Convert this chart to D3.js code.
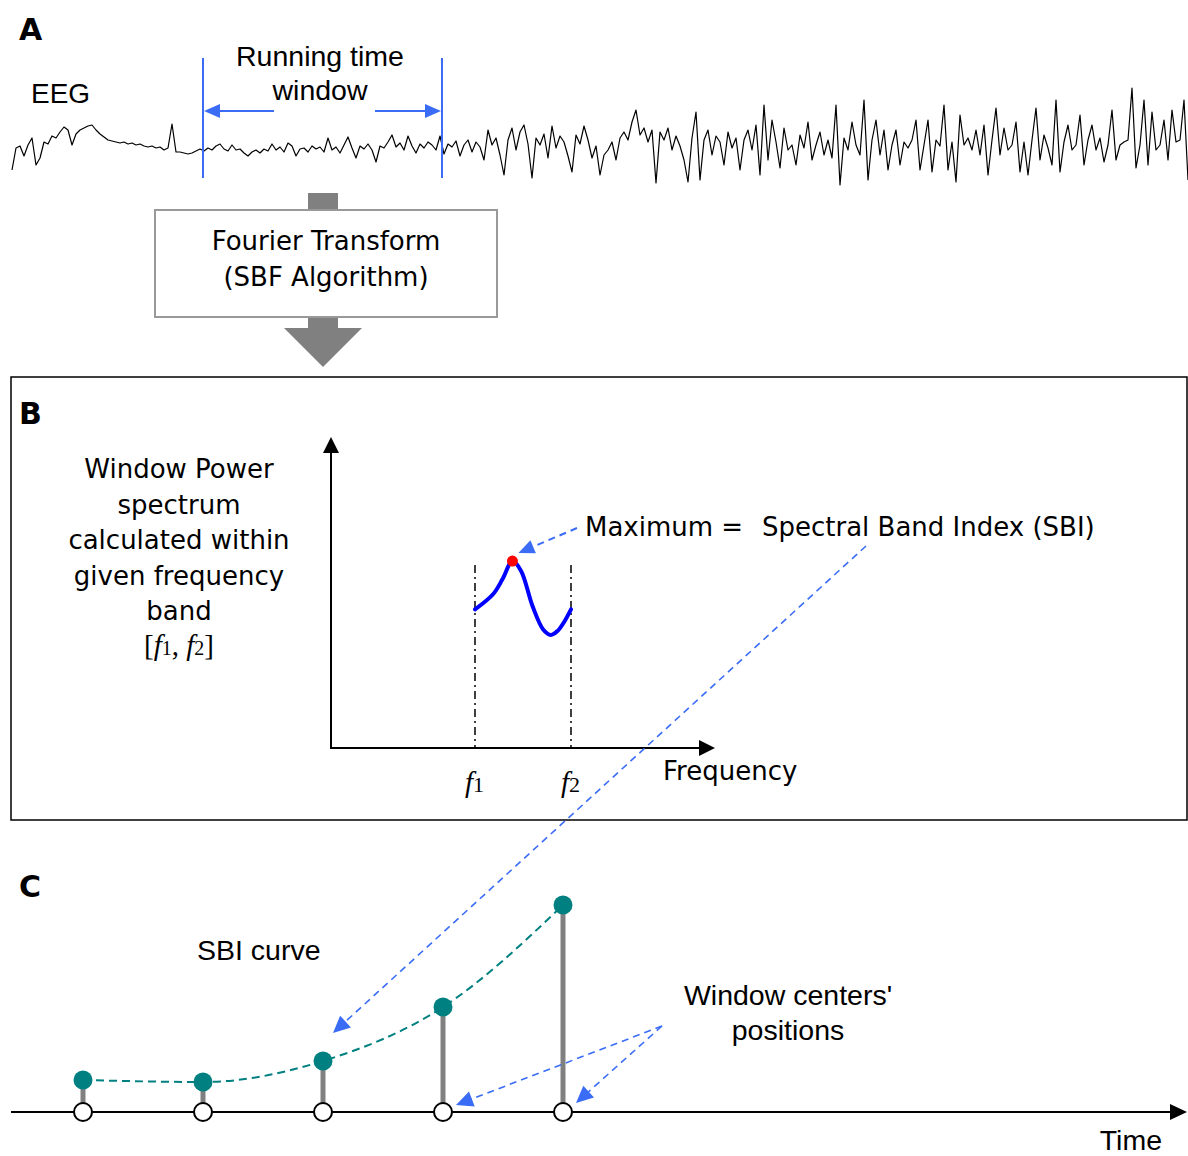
<!DOCTYPE html>
<html lang="en">
<head>
  <meta charset="UTF-8">
  <title>SBI</title>
  <script src="https://d3js.org/d3.v7.min.js"></script>
  <style>
    body { margin: 0; background: #fff; }
  </style>
</head>
<body>
<svg width="1188" height="1156"></svg>
<script>
  // --- data -------------------------------------------------------------
  // EEG trace, one sample every ~4px, amplitude in arbitrary units (up = +)
  const eegSeg1 = [-20, 2, 4, -6, 5, 12, -15, -8, 8, 6, 14, 12, 18, 23, 20, 5, 16, 20, 22, 24, 25, 20, 16, 13, 10, 9, 8, 7, 8, 6, 7, 5, 6, 4, 3, 4, 2, 3, 0, 2, 26, -2, -2, -3, -4, -3, -1, 1, -1, 2, 0, 4, 6, 1, -1, 5, 0, 1, -3, -6, -2, 0, -3, 1, -1, 6, 0, 3, -2, 7, 4, -6, 1]
  const eegSeg2 = [2, -2, 4, 1, 3, -2, 12, 0, 3, -3, 5, 13, 2, -8, 4, 1, 6, 0, -12, 4, 2, 8, 15, 3, 7, 0, 14, 4, -3, 6, 2, 8, 5, 0, 14, -4, 6, 3, 9, -6, 5, 10, -2, 8, 3, -10, 20, 5, 12, -5, -25, 10, 22, 0, 18, 25, 6, -28, 12, 5, 16, -8, 24, 2, 14, 8, -6, -22, 15, 6, 24, 10, -8, 4]
  const eegSeg3 = [-25, -5, 0, 8, -10, 12, 18, 10, 28, 40, 15, 22, 8, 20, -33, 18, 10, 22, 0, 14, 4, -10, -32, 12, 38, -30, 10, 20, -5, 14, 8, -15, 18, 2, 12, -20, 10, 20, 0, 25, -25, 45, -10, 30, 8, -18, 22, 0, 5, -15, 15, 2, 28, -10, 5, 18, -5, 10, -8, 45, -35, 12, 0, 28, 5, -5, 50, -30, 10, 30, -5, 20, -20]
  const eegSeg4 = [5, 20, -15, 8, 2, 10, 30, -20, 5, 30, -22, 10, 4, 45, -20, 8, -32, 35, 5, 12, 0, 20, -5, 25, -25, 10, 42, -5, 22, 0, 5, 28, -22, 8, -25, 10, 42, -10, 15, 2, -15, 50, -22, 8, 25, 0, 5, 35, -15, 10, 25, 0, 12, -12, 5, 40, -10, 5, 8, 10, 62, -18, 5, 50, -15, 38, 0, 5, 30, -10, 40, 8, 10, 50, -30]
  const eeg = eegSeg1.concat(eegSeg2, eegSeg3, eegSeg4)
  const runWindow = [47.75, 107.5]   // sample indices of the running window

  // window power spectrum between f1 and f2
  const specFreq = [15, 16.9, 17.9, 18.9, 19.8, 21.0, 22.1, 22.9, 23.6, 24.3, 25]
  const specPower = [4.5, 5.0, 5.5, 6.07, 5.75, 4.6, 3.85, 3.67, 3.8, 4.1, 4.5]
  const bandEdges = [15, 25]
  const bandLabels = ["1", "2"]

  // SBI curve
  const windowCenters = [0.6, 1.6, 2.6, 3.6, 4.6]
  const sbiValues = [32, 30, 51, 105, 207]

  // --- styles -----------------------------------------------------------
  const tahoma = "'DejaVu Sans', Verdana, sans-serif"
  const arial = "'Liberation Sans', Arial, sans-serif"
  const times = "'Liberation Serif', 'Times New Roman', serif"
  const blue = "#3a6cf6"
  const teal = "#008080"
  const gray = "#808080"

  const svg = d3.select("svg")

  function arrowHead(g, x1, y1, x2, y2, len, half, color) {
    const a = Math.atan2(y2 - y1, x2 - x1)
    const bx = x2 - len * Math.cos(a), by = y2 - len * Math.sin(a)
    const px = -Math.sin(a) * half, py = Math.cos(a) * half
    g.append("polygon")
      .attr("points", [[x2, y2], [bx + px, by + py], [bx - px, by - py]].map(p => p.join(",")).join(" "))
      .attr("fill", color)
  }

  function arrowLine(g, x1, y1, x2, y2, opts) {
    const len = opts.len || 15, half = opts.half || 7
    const a = Math.atan2(y2 - y1, x2 - x1)
    g.append("line")
      .attr("x1", x1).attr("y1", y1)
      .attr("x2", x2 - (len - 2) * Math.cos(a)).attr("y2", y2 - (len - 2) * Math.sin(a))
      .attr("stroke", opts.color)
      .attr("stroke-width", opts.width || 2)
      .attr("stroke-dasharray", opts.dash || null)
    arrowHead(g, x1, y1, x2, y2, len, half, opts.color)
  }

  function label(g, x, y, txt, font, size, anchor, weight) {
    return g.append("text")
      .attr("x", x).attr("y", y)
      .attr("font-family", font)
      .attr("font-size", size)
      .attr("font-weight", weight || "normal")
      .attr("text-anchor", anchor || "start")
      .text(txt)
  }

  // --- panel A ----------------------------------------------------------
  const gA = svg.append("g")
  label(gA, 19, 40, "A", tahoma, 30, "start", "bold")
  label(gA, 31, 103, "EEG", arial, 28)
  label(gA, 320, 66, "Running time", arial, 28.5, "middle")
  label(gA, 320, 100, "window", arial, 28.5, "middle")

  const xEeg = d3.scaleLinear().domain([0, eeg.length - 1]).range([12, 1188])
  const yEeg = d3.scaleLinear().domain([-40, 80]).range([190, 70])

  gA.append("path")
    .datum(eeg)
    .attr("fill", "none")
    .attr("stroke", "#000")
    .attr("stroke-width", 1.2)
    .attr("stroke-linejoin", "round")
    .attr("d", d3.line().x((d, i) => xEeg(i)).y(d => yEeg(d)))

  runWindow.forEach(w => {
    gA.append("line")
      .attr("x1", xEeg(w)).attr("x2", xEeg(w))
      .attr("y1", 58).attr("y2", 178)
      .attr("stroke", blue).attr("stroke-width", 2)
  })
  arrowLine(gA, 274, 111, xEeg(runWindow[0]) + 1, 111, { color: blue, len: 16, half: 7 })
  arrowLine(gA, 375, 111, xEeg(runWindow[1]) - 1, 111, { color: blue, len: 16, half: 7 })

  // Fourier transform box with the big grey arrow
  gA.append("rect").attr("x", 308).attr("y", 193).attr("width", 30).attr("height", 18).attr("fill", gray)
  gA.append("rect").attr("x", 308).attr("y", 316).attr("width", 30).attr("height", 13).attr("fill", gray)
  gA.append("polygon").attr("points", "284,328 362,328 323,367").attr("fill", gray)
  gA.append("rect")
    .attr("x", 155).attr("y", 210).attr("width", 342).attr("height", 107)
    .attr("fill", "#fff").attr("stroke", "#999").attr("stroke-width", 2)
  label(gA, 326, 250, "Fourier Transform", tahoma, 26, "middle")
  label(gA, 326, 286, "(SBF Algorithm)", tahoma, 26, "middle")

  // --- panel B ----------------------------------------------------------
  const gB = svg.append("g")
  gB.append("rect")
    .attr("x", 11).attr("y", 377).attr("width", 1176).attr("height", 443)
    .attr("fill", "none").attr("stroke", "#000").attr("stroke-width", 1.5)
  label(gB, 19, 424, "B", tahoma, 30, "start", "bold")

  const leftLines = ["Window Power", "spectrum", "calculated within", "given frequency", "band"]
  leftLines.forEach((t, i) => label(gB, 179, 478 + i * 35.5, t, tahoma, 26, "middle"))
  const bandTxt = gB.append("text")
    .attr("x", 179).attr("y", 655)
    .attr("text-anchor", "middle")
    .attr("font-family", times).attr("font-size", 29)
  bandTxt.append("tspan").text("[")
  bandTxt.append("tspan").attr("font-style", "italic").text("f")
  bandTxt.append("tspan").attr("font-size", 20).text("1")
  bandTxt.append("tspan").text(", ")
  bandTxt.append("tspan").attr("font-style", "italic").text("f")
  bandTxt.append("tspan").attr("font-size", 20).text("2")
  bandTxt.append("tspan").text("]")

  const xF = d3.scaleLinear().domain([0, 40]).range([331, 715])
  const yP = d3.scaleLinear().domain([0, 10]).range([748, 440])

  // axes with arrow heads
  gB.append("line").attr("x1", xF(0)).attr("y1", yP(0)).attr("x2", xF(0)).attr("y2", 450)
    .attr("stroke", "#000").attr("stroke-width", 2)
  arrowHead(gB, xF(0), yP(0), xF(0), 437, 16, 8, "#000")
  gB.append("line").attr("x1", xF(0) - 1).attr("y1", yP(0)).attr("x2", 702).attr("y2", yP(0))
    .attr("stroke", "#000").attr("stroke-width", 2)
  arrowHead(gB, xF(0), yP(0), xF(40), yP(0), 16, 8, "#000")
  label(gB, 663, 780, "Frequency", tahoma, 26)

  bandEdges.forEach((f, i) => {
    gB.append("line")
      .attr("x1", xF(f)).attr("x2", xF(f))
      .attr("y1", 565).attr("y2", yP(0))
      .attr("stroke", "#000").attr("stroke-width", 1.5)
      .attr("stroke-dasharray", "8,4,2,4")
    const t = gB.append("text")
      .attr("x", xF(f) - 10).attr("y", 792)
      .attr("font-family", times).attr("font-size", 29)
    t.append("tspan").attr("font-style", "italic").text("f")
    t.append("tspan").attr("font-size", 22).text(bandLabels[i])
  })

  const spec = specFreq.map((f, i) => [f, specPower[i]])
  gB.append("path")
    .datum(spec)
    .attr("fill", "none")
    .attr("stroke", "#0000ff")
    .attr("stroke-width", 4)
    .attr("stroke-linecap", "round")
    .attr("d", d3.line().curve(d3.curveCatmullRom).x(d => xF(d[0])).y(d => yP(d[1])))
  const peak = spec[d3.maxIndex(specPower)]
  gB.append("circle")
    .attr("cx", xF(peak[0])).attr("cy", yP(peak[1])).attr("r", 5.5)
    .attr("fill", "#f00")

  arrowLine(gB, 577, 528, xF(peak[0]) + 6, yP(peak[1]) - 8, { color: blue, len: 16, half: 7, dash: "7,5" })
  label(gB, 585, 536, "Maximum =", tahoma, 26)
  label(gB, 762, 536, "Spectral Band Index (SBI)", tahoma, 26)

  // --- panel C ----------------------------------------------------------
  const gC = svg.append("g")
  label(gC, 19, 897, "C", tahoma, 30, "start", "bold")
  label(gC, 197, 960, "SBI curve", arial, 28.5)
  label(gC, 788, 1005, "Window centers'", arial, 28.5, "middle")
  label(gC, 788, 1040, "positions", arial, 28.5, "middle")
  label(gC, 1162, 1150, "Time", arial, 28.5, "end")

  const xT = d3.scaleLinear().domain([0, 9.8]).range([11, 1187])
  const yS = d3.scaleLinear().domain([0, 210]).range([1112, 902])

  gC.append("line").attr("x1", xT(0)).attr("y1", yS(0)).attr("x2", 1174).attr("y2", yS(0))
    .attr("stroke", "#000").attr("stroke-width", 2)
  arrowHead(gC, xT(0), yS(0), xT(9.8), yS(0), 17, 8, "#000")

  // long dashed arrow from the SBI label to the 3rd window
  arrowLine(gC, 866, 546, 333, 1033, { color: blue, len: 17, half: 8, dash: "7,5", width: 1.6 })

  const pts = windowCenters.map((t, i) => [t, sbiValues[i]])
  gC.selectAll("line.stem")
    .data(pts)
    .join("line")
    .attr("class", "stem")
    .attr("x1", d => xT(d[0])).attr("x2", d => xT(d[0]))
    .attr("y1", yS(0)).attr("y2", d => yS(d[1]))
    .attr("stroke", gray).attr("stroke-width", 5)

  gC.append("path")
    .datum(pts)
    .attr("fill", "none")
    .attr("stroke", teal)
    .attr("stroke-width", 2)
    .attr("stroke-dasharray", "8,5")
    .attr("d", d3.line().curve(d3.curveMonotoneX).x(d => xT(d[0])).y(d => yS(d[1])))

  // arrows to window centres
  arrowLine(gC, 662, 1026, xT(windowCenters[3]) + 13, 1105, { color: blue, len: 17, half: 8, dash: "7,5", width: 1.6 })
  arrowLine(gC, 662, 1026, xT(windowCenters[4]) + 13, 1103, { color: blue, len: 17, half: 8, dash: "7,5", width: 1.6 })

  gC.selectAll("circle.sbi")
    .data(pts)
    .join("circle")
    .attr("class", "sbi")
    .attr("cx", d => xT(d[0])).attr("cy", d => yS(d[1]))
    .attr("r", 9.5)
    .attr("fill", teal)

  gC.selectAll("circle.center")
    .data(windowCenters)
    .join("circle")
    .attr("class", "center")
    .attr("cx", d => xT(d)).attr("cy", yS(0))
    .attr("r", 9)
    .attr("fill", "#fff").attr("stroke", "#000").attr("stroke-width", 2)
</script>
</body>
</html>
